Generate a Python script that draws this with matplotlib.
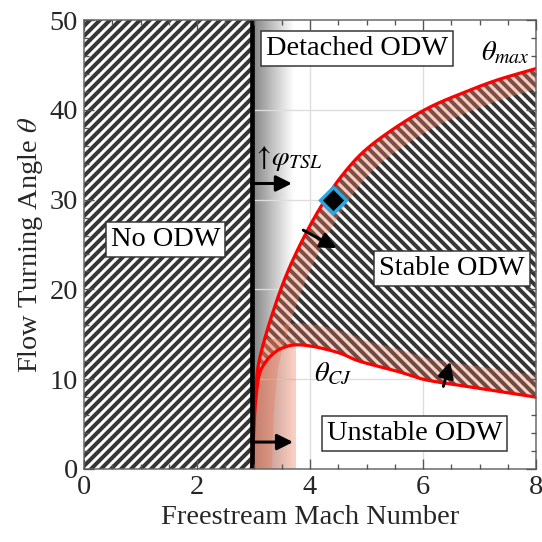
import numpy as np
import matplotlib
matplotlib.use('Agg')
import matplotlib.pyplot as plt
from matplotlib.patches import Polygon
from matplotlib.ticker import MultipleLocator

plt.rcParams['font.family'] = ['Liberation Serif', 'DejaVu Serif']
plt.rcParams['mathtext.fontset'] = 'stix'
plt.rcParams['hatch.linewidth'] = 2.4

# --- data ---
# theta_max (detachment) curve
mach_max = [2.97, 2.985, 3.00, 3.04, 3.08, 3.15, 3.23, 3.35, 3.47, 3.58, 3.69,
            3.85, 4.06, 4.25, 4.53, 4.94, 5.53, 6.12, 6.71, 7.30, 8.00]
theta_max = [0, 2.8, 5.8, 9.0, 11.4, 13.4, 15.2, 17.6, 19.8, 21.6, 23.2,
             25.3, 27.8, 29.8, 32.4, 35.3, 38.1, 40.3, 41.9, 43.3, 44.6]
# theta_CJ curve
mach_cj = [2.97, 2.99, 3.01, 3.04, 3.11, 3.20, 3.29, 3.45, 3.70, 4.00,
           4.53, 4.83, 5.59, 6.00, 6.77, 7.40, 8.00]
theta_cj = [0, 2.1, 5.0, 7.7, 10.7, 11.8, 12.5, 13.3, 13.8, 13.7,
            12.9, 12.1, 10.8, 10.0, 9.2, 8.6, 8.0]
mach_tsl = 2.97          # no-ODW limit
diamond = (4.41, 29.95)

# arrows (start, end)
arrows = [((2.96, 31.8), (3.68, 31.8)),
          ((2.96, 3.0), (3.70, 3.0)),
          ((3.88, 26.6), (4.47, 24.6)),
          ((6.36, 9.2), (6.48, 11.95))]

labels = ['No ODW', 'Detached ODW', 'Stable ODW', 'Unstable ODW']
label_pos = [(1.44, 25.6), (4.835, 46.85), (6.51, 22.35), (5.85, 3.97)]


def smooth(xs, ys, n=30):
    # centripetal catmull-rom through the read points (in axis-like units)
    p = np.column_stack([np.asarray(xs) / 8.0, np.asarray(ys) / 50.0])
    p = np.vstack([2 * p[0] - p[1], p, 2 * p[-1] - p[-2]])
    out = []
    for i in range(1, len(p) - 2):
        p0, p1, p2, p3 = p[i - 1], p[i], p[i + 1], p[i + 2]
        t0 = 0.0
        t1 = t0 + np.linalg.norm(p1 - p0) ** 0.5
        t2 = t1 + np.linalg.norm(p2 - p1) ** 0.5
        t3 = t2 + np.linalg.norm(p3 - p2) ** 0.5
        t = np.linspace(t1, t2, n, endpoint=False)[:, None]
        a1 = (t1 - t) / (t1 - t0) * p0 + (t - t0) / (t1 - t0) * p1
        a2 = (t2 - t) / (t2 - t1) * p1 + (t - t1) / (t2 - t1) * p2
        a3 = (t3 - t) / (t3 - t2) * p2 + (t - t2) / (t3 - t2) * p3
        b1 = (t2 - t) / (t2 - t0) * a1 + (t - t0) / (t2 - t0) * a2
        b2 = (t3 - t) / (t3 - t1) * a2 + (t - t1) / (t3 - t1) * a3
        out.append((t2 - t) / (t2 - t1) * b1 + (t - t1) / (t2 - t1) * b2)
    out.append(p[-2][None, :])
    c = np.vstack(out)
    return c[:, 0] * 8.0, c[:, 1] * 50.0


fig = plt.figure(figsize=(542/120, 542/120), dpi=120)
ax = fig.add_axes([0.155, 0.1347, 0.834, 0.8283])
ax.set_xlim(0, 8)
ax.set_ylim(0, 50)

mx_x, mx_y = smooth(mach_max, theta_max)
cj_x, cj_y = smooth(mach_cj, theta_cj)
M = np.linspace(mach_tsl, 8, 800)
tmax = np.interp(M, np.maximum.accumulate(mx_x), mx_y)
tcj = np.interp(M, np.maximum.accumulate(cj_x), cj_y)

# grey gradient next to the TSL limit
n = 200
t = np.linspace(0, 1, n)
grad = np.zeros((1, n, 4))
grad[0, :, 3] = 0.5 * (1 - t) ** 1.1
ax.imshow(grad, extent=[mach_tsl, 3.72, 0, 50], aspect='auto', zorder=1,
          interpolation='bilinear')

# grid drawn by hand so the ticks stay on top
for xv in [2, 4, 6]:
    ax.axvline(xv, color='#dddddd', lw=0.8, zorder=1.5)
for yv in [10, 20, 30, 40]:
    ax.axhline(yv, color='#dddddd', lw=0.8, zorder=1.5)

hatch_col = '#363636'
# no ODW region
ax.fill_betweenx([0, 50], 0, mach_tsl, facecolor='white', edgecolor=hatch_col,
                 hatch='////', lw=0, zorder=2)
# stable ODW region
ax.fill_between(M, tcj, tmax, facecolor='white', edgecolor=hatch_col,
                hatch='\\\\\\\\', lw=0, zorder=2)

band = '#ee7a5c'
under_max = Polygon(np.vstack([np.column_stack([M, tmax]), [[8, 0], [mach_tsl, 0]]]),
                    transform=ax.transData, fc='none', ec='none')
above_cj = Polygon(np.vstack([np.column_stack([M, tcj]), [[8, 50], [mach_tsl, 50]]]),
                   transform=ax.transData, fc='none', ec='none')
ax.add_patch(under_max)
ax.add_patch(above_cj)

l1, = ax.plot(M, tmax, color=band, lw=24, alpha=0.38, solid_capstyle='butt', zorder=2.1)
l1.set_clip_path(under_max)
sel = M >= 3.6
l2, = ax.plot(M[sel], tcj[sel], color=band, lw=26, alpha=0.32, solid_capstyle='butt', zorder=2.1)
l2.set_clip_path(above_cj)
span = ax.fill_between([mach_tsl, 3.75], 0, 14.5, color=band, alpha=0.36, lw=0, zorder=2.1)
span.set_clip_path(under_max)

ax.plot(M, tmax, color='#ff0000', lw=1.9, zorder=3)
ax.plot(M, tcj, color='#ff0000', lw=1.9, zorder=3)
ax.axvline(mach_tsl, color='black', lw=2.8, zorder=3)

ax.plot(*diamond, marker='D', ms=11, mfc='black', mec='#29a8e0', mew=2, zorder=4)

for (x0, y0), (x1, y1) in arrows:
    ax.annotate('', xy=(x1, y1), xytext=(x0, y0), zorder=4,
                arrowprops=dict(arrowstyle='-|>', color='black', lw=1.8,
                                mutation_scale=20, shrinkA=0, shrinkB=0))

fs = 17
for s, (x, y) in zip(labels, label_pos):
    ax.text(x, y, s, fontsize=fs, ha='center', va='center', zorder=5,
            bbox=dict(boxstyle='square,pad=0.18', fc='white', ec='#333333', lw=0.9))

ax.text(7.45, 46.3, r'$\theta_{max}$', fontsize=fs, ha='center', va='center', zorder=5)
ax.text(4.42, 10.6, r'$\theta_{CJ}$', fontsize=fs, ha='center', va='center', zorder=5)
ax.text(3.6, 34.6, r'$\uparrow\!\varphi_{TSL}$', fontsize=fs, ha='center', va='center', zorder=5)

ax.set_xlabel('Freestream Mach Number', fontsize=fs, color='#262626', labelpad=3)
ax.set_ylabel(r'Flow Turning Angle $\theta$', fontsize=fs, color='#262626', labelpad=3)
ax.xaxis.set_major_locator(MultipleLocator(2))
ax.xaxis.set_minor_locator(MultipleLocator(0.5))
ax.yaxis.set_major_locator(MultipleLocator(10))
ax.yaxis.set_minor_locator(MultipleLocator(2))
ax.tick_params(which='both', direction='in', top=True, right=True, color='#555555',
               labelsize=fs, labelcolor='#262626')
ax.tick_params(which='major', length=6, width=0.8)
ax.tick_params(which='minor', length=3, width=0.8)
ax.xaxis.set_zorder(10)
ax.yaxis.set_zorder(10)
for sp in ax.spines.values():
    sp.set_color('#666666')
    sp.set_linewidth(0.9)
    sp.set_zorder(10)

fig.savefig('out.png', dpi=120)
